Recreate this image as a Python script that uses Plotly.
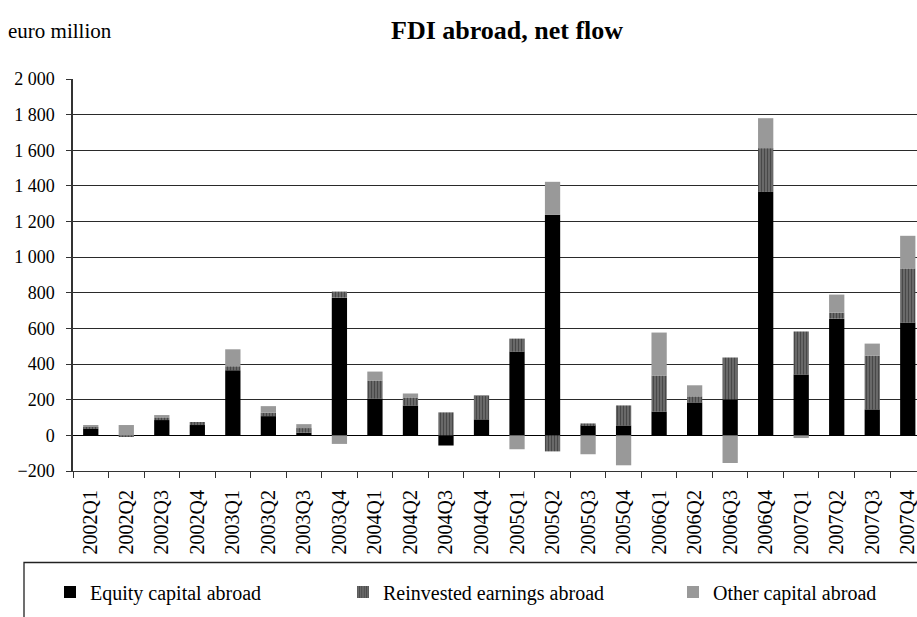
import plotly.graph_objects as go

quarters = ["2002Q1", "2002Q2", "2002Q3", "2002Q4",
            "2003Q1", "2003Q2", "2003Q3", "2003Q4",
            "2004Q1", "2004Q2", "2004Q3", "2004Q4",
            "2005Q1", "2005Q2", "2005Q3", "2005Q4",
            "2006Q1", "2006Q2", "2006Q3", "2006Q4",
            "2007Q1", "2007Q2", "2007Q3", "2007Q4"]
equity = [36, 0, 86, 58, 366, 108, 15, 773, 207, 168, -57, 90,
          470, 1238, 56, 56, 134, 185, 202, 1366, 342, 655, 146, 633]
reinvested = [11, -8, 15, 17, 22, 19, 26, 34, 101, 45, 129, 132,
              73, -90, 11, 112, 202, 34, 235, 246, 241, 34, 302, 304]
other = [6, 58, 13, 0, 95, 37, 22, -48, 50, 22, 0, 3,
         -78, 185, -106, -168, 241, 62, -155, 168, -15, 101, 67, 183]

FONT = "Liberation Serif"
L, T, B, W, H = 73, 79, 146, 917, 617
PW = W - L
PH = H - T - B


def px(xp):
    return (xp - L) / PW


def py(yp):
    return (H - B - yp) / PH


fig = go.Figure()
fig.add_bar(x=quarters, y=equity, name="Equity capital abroad",
            marker=dict(color="black", line=dict(width=0)), legend="legend")
fig.add_bar(x=quarters, y=reinvested, name="Reinvested earnings abroad",
            marker=dict(color="#737373", line=dict(width=0),
                        pattern=dict(shape="|", fgcolor="#1e1e1e", size=3, solidity=0.5)),
            legend="legend2")
fig.add_bar(x=quarters, y=other, name="Other capital abroad",
            marker=dict(color="#999999", line=dict(width=0)), legend="legend3")

leg_common = dict(orientation="h", xanchor="left", yanchor="middle",
                  xref="container", yref="container",
                  y=1 - 592 / H, font=dict(family=FONT, size=20, color="black"),
                  bgcolor="rgba(0,0,0,0)", borderwidth=0, visible=True)

fig.update_layout(
    width=W, height=H,
    margin=dict(l=L, r=0, t=T, b=B, autoexpand=False),
    barmode="relative", bargap=0.57,
    showlegend=True,
    plot_bgcolor="white", paper_bgcolor="white",
    font=dict(family=FONT, color="black"),
    separators=". ",
    legend=dict(x=50 / W, **leg_common),
    legend2=dict(x=343 / W, **leg_common),
    legend3=dict(x=673 / W, **leg_common),
    xaxis=dict(type="category", range=[-0.5, 23.26], tickson="boundaries",
               ticks="outside", ticklen=6, tickcolor="#333", showline=True,
               linecolor="#333", linewidth=1, tickangle=-90, showgrid=False,
               tickfont=dict(family=FONT, size=20, color="black"),
               ticklabelstandoff=10, automargin=False),
    yaxis=dict(range=[-200, 2000], dtick=200, tickformat=",d",
               showgrid=True, gridcolor="#2a2a2a", gridwidth=1,
               zeroline=True, zerolinecolor="black", zerolinewidth=1,
               ticks="outside", ticklen=5, tickcolor="#333",
               showline=True, linecolor="#333", linewidth=1.5,
               tickfont=dict(family=FONT, size=18, color="black"),
               ticklabelstandoff=8, automargin=False),
    annotations=[
        dict(text="<b>FDI abroad, net flow</b>", xref="paper", yref="paper",
             x=px(507), y=py(30), xanchor="center", yanchor="middle",
             showarrow=False, font=dict(family=FONT, size=26, color="black")),
        dict(text="euro million", xref="paper", yref="paper",
             x=px(6), y=py(31), xanchor="left", yanchor="middle",
             showarrow=False, font=dict(family=FONT, size=21, color="black")),
    ],
    shapes=[
        dict(type="rect", xref="paper", yref="paper",
             x0=px(24), x1=px(1000), y0=py(562.5), y1=py(700),
             line=dict(color="#222", width=1.3), fillcolor="rgba(0,0,0,0)",
             layer="below"),
    ],
)

fig.write_html("out.html",
               config={"displayModeBar": False},
               post_script="document.body.style.margin='0';document.body.style.overflow='hidden';")
